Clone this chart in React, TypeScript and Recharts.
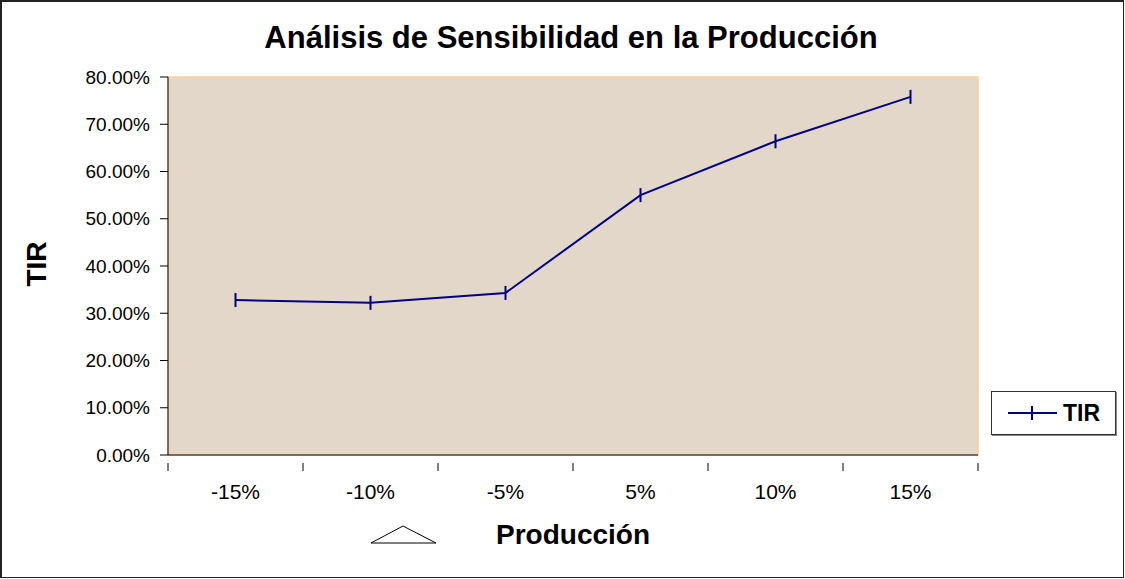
import React from 'react';
import { LineChart, Line, XAxis, YAxis, CartesianGrid, ReferenceArea } from 'recharts';

const categories = ['-15%', '-10%', '-5%', '5%', '10%', '15%'];
const tirValues = [32.8, 32.2, 34.3, 55.0, 66.4, 75.8];
const yTicks = [0, 10, 20, 30, 40, 50, 60, 70, 80];
const seriesName = 'TIR';

const data = categories.map((c, i) => ({ cat: c, pos: i + 0.5, TIR: tirValues[i] }));
const xTicks: number[] = [];
for (let i = 0; i <= categories.length * 2; i++) xTicks.push(i / 2);

const FONT = 'Arial, "Liberation Sans", sans-serif';

const XTick = (props: any) => {
  const { x, y, payload } = props;
  const v = payload.value as number;
  if (Number.isInteger(v)) {
    return <line x1={x} y1={y} x2={x} y2={y + 8} stroke="#000" strokeWidth={1} />;
  }
  const label = categories[Math.floor(v)];
  return (
    <text x={x} y={y + 36} textAnchor="middle" fontSize={21} fontFamily={FONT} fill="#000">
      {label}
    </text>
  );
};

const TickDot = (props: any) => {
  const { cx, cy } = props;
  if (cx == null || cy == null) return null;
  return <line key={`d${cx}`} x1={cx} y1={cy - 7} x2={cx} y2={cy + 7} stroke="#000080" strokeWidth={2} />;
};

export default function App() {
  return (
    <div
      style={{
        position: 'absolute',
        left: 0,
        top: 0,
        width: 1125,
        height: 579,
        background: '#fff',
        fontFamily: FONT,
      }}
    >
      <div
        style={{
          position: 'absolute',
          left: 0,
          top: 0,
          width: 1124,
          height: 578,
          border: '1px solid #222',
          borderLeftWidth: 2,
          borderTopWidth: 2,
          boxSizing: 'border-box',
        }}
      />
      <div
        style={{
          position: 'absolute',
          left: 571,
          top: 38,
          transform: 'translate(-50%, -50%)',
          whiteSpace: 'nowrap',
          fontSize: 31,
          fontWeight: 'bold',
        }}
      >
        Análisis de Sensibilidad en la Producción
      </div>
      <div
        style={{
          position: 'absolute',
          left: 37,
          top: 264,
          transform: 'translate(-50%, -50%) rotate(-90deg)',
          fontSize: 28,
          fontWeight: 'bold',
        }}
      >
        TIR
      </div>
      <div
        style={{
          position: 'absolute',
          left: 573,
          top: 535,
          transform: 'translate(-50%, -50%)',
          whiteSpace: 'nowrap',
          fontSize: 28,
          fontWeight: 'bold',
        }}
      >
        Producción
      </div>
      <svg style={{ position: 'absolute', left: 0, top: 0 }} width={1125} height={579}>
        <polygon points="371,543 403,526 436,543" fill="#fff" stroke="#000" strokeWidth={1} />
      </svg>
      <div
        style={{
          position: 'absolute',
          left: 991,
          top: 391,
          width: 125,
          height: 44,
          border: '1px solid #333',
          boxShadow: '1px 1px 0 #888',
          background: '#fff',
          boxSizing: 'border-box',
          display: 'flex',
          alignItems: 'center',
        }}
      >
        <svg width={58} height={20} style={{ marginLeft: 15 }}>
          <line x1={1} y1={10} x2={50} y2={10} stroke="#000080" strokeWidth={2} />
          <line x1={25} y1={3} x2={25} y2={17} stroke="#000080" strokeWidth={2} />
        </svg>
        <span style={{ fontWeight: 'bold', fontSize: 23, marginLeft: -2 }}>{seriesName}</span>
      </div>
      <div style={{ position: 'absolute', left: 0, top: 0 }}>
        <LineChart
          width={1125}
          height={579}
          data={data}
          margin={{ top: 77, right: 147, bottom: 94, left: 0 }}
        >
          <CartesianGrid horizontal={false} vertical={false} fill="#e2d7c9" />
          <ReferenceArea x1={0} x2={6} y1={0} y2={80} fill="#e2d7c9" fillOpacity={1} stroke="#ffcc99" strokeWidth={1.5} />
          <XAxis
            dataKey="pos"
            type="number"
            domain={[0, 6]}
            ticks={xTicks}
            interval={0}
            tickLine={false}
            tick={<XTick />}
            height={30}
            stroke="#000"
            axisLine={{ stroke: '#000', strokeWidth: 1 }}
          />
          <YAxis
            width={168}
            domain={[0, 80]}
            ticks={yTicks}
            interval={0}
            tickFormatter={(v: number) => `${v.toFixed(2)}%`}
            tick={{ fontSize: 19, fontFamily: FONT, fill: '#000' }}
            tickSize={8}
            tickMargin={10}
            stroke="#000"
            axisLine={{ stroke: '#000', strokeWidth: 1 }}
            tickLine={{ stroke: '#000' }}
          />
          <Line
            type="linear"
            dataKey="TIR"
            name={seriesName}
            stroke="#000080"
            strokeWidth={2}
            dot={<TickDot />}
            activeDot={false}
            isAnimationActive={false}
          />
        </LineChart>
      </div>
    </div>
  );
}
